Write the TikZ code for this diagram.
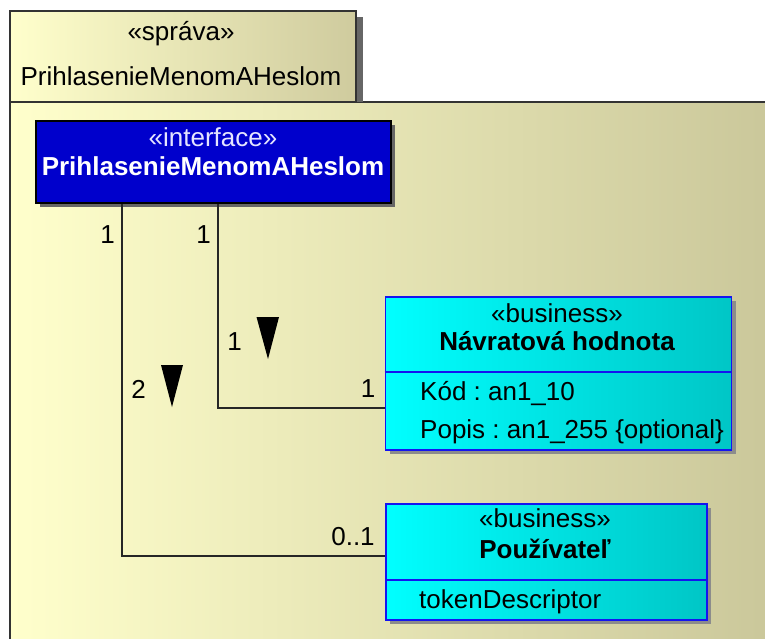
\documentclass[tikz,border=0pt]{standalone}
\usepackage{fontspec}
\setmainfont{Liberation Sans}
\usetikzlibrary{shadows}
\frenchspacing

\definecolor{pkglight}{HTML}{FFFFCC}
\definecolor{pkgdark}{HTML}{CAC79A}
\definecolor{tabdark}{HTML}{CFCB9E}
\definecolor{ifblue}{HTML}{0000CC}
\definecolor{bizlight}{HTML}{00FFFF}
\definecolor{bizdark}{HTML}{00C6C6}
\definecolor{bizline}{HTML}{1414F0}

\tikzset{
  umltext/.style={font=\fontsize{26}{31}\selectfont, inner sep=0pt, anchor=base},
  attrtext/.style={umltext, anchor=base west},
  ifbox/.style={draw=black, line width=2pt, fill=ifblue, inner sep=0pt,
    drop shadow={shadow xshift=4pt, shadow yshift=-4pt, fill=black!60, opacity=1}},
  bizbox/.style={draw=bizline, line width=1.8pt, left color=bizlight, right color=bizdark, inner sep=0pt,
    drop shadow={shadow xshift=4pt, shadow yshift=-4pt, fill=black!45, opacity=1}},
  conn/.style={line width=2pt, black!85}
}

\begin{document}
\begin{tikzpicture}[x=1pt,y=-1pt]
        \useasboundingbox (0,0) rectangle (765,638);

        % 1. Corpo del package (sfumato, tagliato a destra e in basso)
        \fill[left color=pkglight, right color=pkgdark] (10,102) rectangle (775,650);
        \draw[line width=2pt, black!80] (10,650) -- (10,102) -- (775,102);

        % 2. Linguetta del package con ombra
        \fill[black!60] (356,17) rectangle (363,102);
        \draw[line width=2pt, black!80, left color=pkglight, right color=tabdark] (10,11) rectangle (356,102);
        \node[umltext] (pkgster) at (181,40) {«správa»};
        \node[umltext] (pkgname) at (181,85) {PrihlasenieMenomAHeslom};

        % 3. Interfaccia
        \node[ifbox, minimum width=355pt, minimum height=82pt] (iface) at (213.5,162) {};
        \node[umltext, text=white!90!blue] (ifster) at (213,146) {«interface»};
        \node[umltext, text=white, font=\fontsize{26}{31}\selectfont\bfseries] (ifname) at (213,175) {PrihlasenieMenomAHeslom};

        % 4. Classe Navratova hodnota
        \node[bizbox, minimum width=346pt, minimum height=153pt] (nav) at (558.5,373.5) {};
        \draw[bizline, line width=1.8pt] (nav.west |- 0,372) -- (nav.east |- 0,372);
        \node[umltext] (navster) at (557,322) {«business»};
        \node[umltext, font=\fontsize{26}{31}\selectfont\bfseries] (navname) at (557,350) {Návratová hodnota};
        \node[attrtext] (navkod) at (420,400) {Kód : an1\_10};
        \node[attrtext] (navpopis) at (420,438) {Popis : an1\_255 \{optional\}};

        % 5. Classe Pouzivatel
        \node[bizbox, minimum width=321pt, minimum height=116pt] (user) at (546.5,562) {};
        \draw[bizline, line width=1.8pt] (user.west |- 0,580) -- (user.east |- 0,580);
        \node[umltext] (userster) at (545,527) {«business»};
        \node[umltext, font=\fontsize{26}{31}\selectfont\bfseries] (username) at (545,558) {Používateľ};
        \node[attrtext] (usertoken) at (419,608) {tokenDescriptor};

        % 6. Associazioni
        \coordinate (lftx) at (122,0);
        \coordinate (rgtx) at (218,0);
        \draw[conn] (iface.south -| lftx) |- ([yshift=6pt]user.west);
        \draw[conn] (iface.south -| rgtx) |- ([yshift=-34pt]nav.west);

        % 7. Molteplicita e numeri d'ordine
        \node[umltext] (m1) at (107.5,243) {1};
        \node[umltext] (m2) at (203.5,243) {1};
        \node[umltext] (m3) at (234.5,350) {1};
        \node[umltext] (m4) at (368,397) {1};
        \node[umltext] (m5) at (138.5,398) {2};
        \node[umltext] (m6) at (353,545) {0..1};

        % 8. Triangoli di direzione
        \fill (256.5,317) -- (279,317) -- (268,359) -- cycle;
        \fill (161,365) -- (183,365) -- (172,407) -- cycle;

    \end{tikzpicture}
\end{document}
